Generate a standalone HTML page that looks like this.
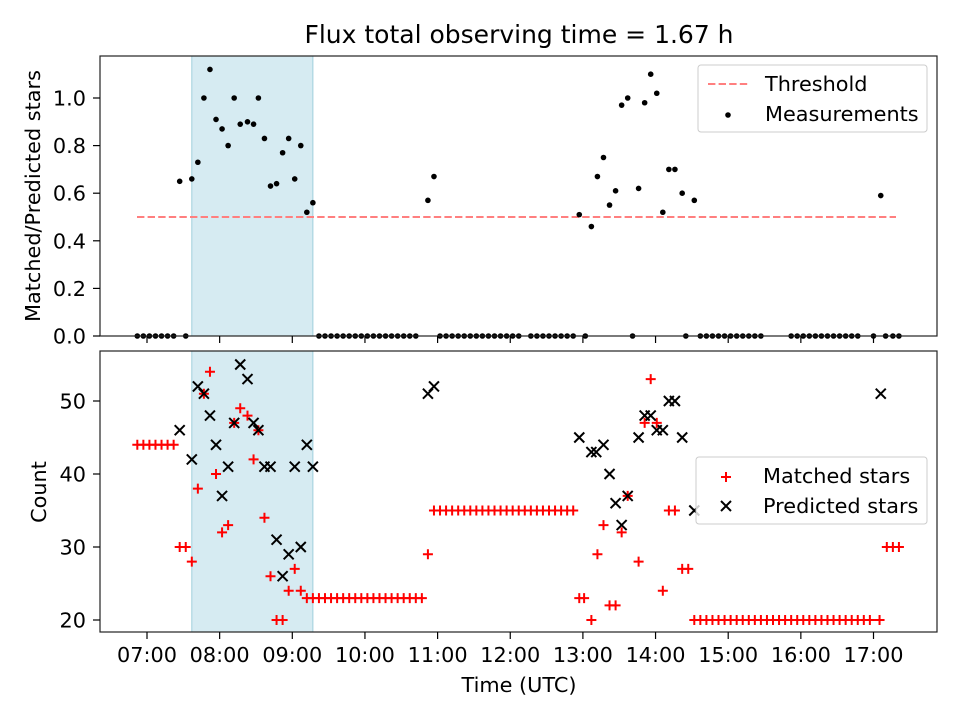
<!DOCTYPE html>
<html><head><meta charset="utf-8"><style>
body{margin:0;background:#fff}
svg{font-family:"DejaVu Sans","Liberation Sans",sans-serif}
</style></head><body>
<svg id="chart" width="960" height="720" viewBox="0 0 960 720" xmlns="http://www.w3.org/2000/svg" style="position:absolute;left:0;top:0"></svg>
<script>
// minutes since 07:00 UTC
const ratioTimes = [27,37,42,47,52,57,62,67,72,77,83,88,92,97,102,107,112,117,122,127,132,137,232,237,357,367,372,377,382,387,392,397,406,411,416,421,426,431,436,442,452,606];
const ratioValues = [0.65,0.66,0.73,1.0,1.12,0.91,0.87,0.80,1.0,0.89,0.90,0.89,1.0,0.83,0.63,0.64,0.77,0.83,0.66,0.80,0.52,0.56,0.57,0.67,0.51,0.46,0.67,0.75,0.55,0.61,0.97,1.0,0.62,0.98,1.1,1.02,0.52,0.70,0.70,0.60,0.57,0.59];
const zeroTimes = [-8,-3,2,7,12,17,22,32,142,147,152,157,162,167,172,177,182,187,192,197,202,207,212,217,222,242,247,252,257,262,267,272,277,282,287,292,297,302,307,317,322,327,332,337,342,347,352,362,401,445,457,462,467,472,477,482,487,492,497,502,507,532,537,542,547,552,557,562,567,572,577,582,587,600,610,616,621];
const matchedTimes = [-8,-3,2,7,12,17,22,27,32,37,42,47,52,57,62,67,72,77,83,88,92,97,102,107,112,117,122,127,132,137,142,147,152,157,162,167,172,177,182,187,192,197,202,207,212,217,222,227,232,237,242,247,252,257,262,267,272,277,282,287,292,297,302,307,312,317,322,327,332,337,342,347,352,357,361,367,372,377,382,387,392,397,406,411,416,421,426,431,436,442,447,452,457,462,467,472,477,482,487,492,497,502,507,512,517,522,527,532,537,542,547,552,557,562,567,572,577,582,587,592,597,605,611,616,621];
const matchedValues = [44,44,44,44,44,44,44,30,30,28,38,51,54,40,32,33,47,49,48,42,46,34,26,20,20,24,27,24,23,23,23,23,23,23,23,23,23,23,23,23,23,23,23,23,23,23,23,23,29,35,35,35,35,35,35,35,35,35,35,35,35,35,35,35,35,35,35,35,35,35,35,35,35,23,23,20,29,33,22,22,32,37,28,47,53,47,24,35,35,27,27,20,20,20,20,20,20,20,20,20,20,20,20,20,20,20,20,20,20,20,20,20,20,20,20,20,20,20,20,20,20,20,30,30,30,30];
const predTimes = [27,37,42,47,52,57,62,67,72,77,83,88,92,97,102,107,112,117,122,127,132,137,232,237,357,367,371,377,382,387,392,397,406,411,416,421,426,431,436,442,452,606];
const predValues = [46,42,52,51,48,44,37,41,47,55,53,47,46,41,41,31,26,29,41,30,44,41,51,52,45,43,43,44,40,36,33,37,45,48,48,46,46,50,50,45,35,51];
const xTickLabels = ["07:00","08:00","09:00","10:00","11:00","12:00","13:00","14:00","15:00","16:00","17:00"];
const topTicks = [0.0,0.2,0.4,0.6,0.8,1.0];
const botTicks = [20,30,40,50];
const threshold = 0.5;
const shadeStart = 37, shadeEnd = 137;

const NS="http://www.w3.org/2000/svg";
const svg=document.getElementById('chart');
function el(tag,attrs,parent){const e=document.createElementNS(NS,tag);for(const k in attrs)e.setAttribute(k,attrs[k]);(parent||svg).appendChild(e);return e;}
const L=100,R=937;
const xs=m=>147+m*72.65/60;
const yTop=v=>336-v*238;
const yBot=c=>620-(c-20)*7.3;
const T1=56,B1=336,T2=351,B2=632;
const FS=20.8;

[[T1,B1],[T2,B2]].forEach(([t,b])=>{
  const s=el('rect',{x:xs(shadeStart),y:t,width:xs(shadeEnd)-xs(shadeStart),height:b-t,fill:'#add8e6','fill-opacity':0.5,stroke:'#9fcfdc','stroke-width':1});
  
  
});

const th=el('line',{x1:137,x2:896,y1:yTop(threshold),y2:yTop(threshold),stroke:'#ff7f7f','stroke-width':2,'stroke-dasharray':'7.4,3.2'});



zeroTimes.forEach(t=>{const c=el('circle',{cx:xs(t),cy:yTop(0),r:2.8,fill:'#000'});
  
  });
ratioTimes.forEach((t,i)=>{const c=el('circle',{cx:xs(t),cy:yTop(ratioValues[i]),r:2.8,fill:'#000'});
  
  });

matchedTimes.forEach((t,i)=>{const x=xs(t),y=yBot(matchedValues[i]);
  const p=el('path',{d:`M${x-5},${y}H${x+5}M${x},${y-5}V${y+5}`,stroke:'#f00','stroke-width':2,fill:'none'});
  
  });
predTimes.forEach((t,i)=>{const x=xs(t),y=yBot(predValues[i]);
  const p=el('path',{d:`M${x-5},${y-5}L${x+5},${y+5}M${x-5},${y+5}L${x+5},${y-5}`,stroke:'#000','stroke-width':2,fill:'none'});
  
  });

[[T1,B1,'top-frame'],[T2,B2,'bottom-frame']].forEach(([t,b,n])=>{
  const f=el('rect',{x:L,y:t,width:R-L,height:b-t,fill:'none',stroke:'#222','stroke-width':1.2});
  
  
});

xTickLabels.forEach((lab,i)=>{const x=xs(i*60);
  el('line',{x1:x,x2:x,y1:B1,y2:B1+7,stroke:'#000','stroke-width':1.2});
  el('line',{x1:x,x2:x,y1:B2,y2:B2+7,stroke:'#000','stroke-width':1.2});
  const tx=el('text',{x:x,y:B2+30,'font-size':FS,'text-anchor':'middle'});tx.textContent=lab;
  
  });
topTicks.forEach(v=>{const y=yTop(v);
  el('line',{x1:L-7,x2:L,y1:y,y2:y,stroke:'#000','stroke-width':1.2});
  const tx=el('text',{x:L-14,y:y+7.5,'font-size':FS,'text-anchor':'end'});tx.textContent=v.toFixed(1);
  
  });
botTicks.forEach(v=>{const y=yBot(v);
  el('line',{x1:L-7,x2:L,y1:y,y2:y,stroke:'#000','stroke-width':1.2});
  const tx=el('text',{x:L-14,y:y+7.5,'font-size':FS,'text-anchor':'end'});tx.textContent=v;
  
  });
</script>
<svg width="960" height="720" style="position:absolute;left:0;top:0" font-family="DejaVu Sans, Liberation Sans, sans-serif">
<text x="519" y="43" font-size="25" text-anchor="middle">Flux total observing time = 1.67 h</text>
<text transform="translate(40,196) rotate(-90)" font-size="20.8" text-anchor="middle">Matched/Predicted stars</text>
<text transform="translate(46,492) rotate(-90)" font-size="20.8" text-anchor="middle">Count</text>
<text x="519" y="692" font-size="20.8" text-anchor="middle">Time (UTC)</text>
<g font-size="20.8">
<rect x="698" y="65" width="229" height="67" rx="3" fill="#fff" fill-opacity="0.8" stroke="#ccc"/>
<line x1="708" x2="748" y1="84" y2="84" stroke="#ff7f7f" stroke-width="2" stroke-dasharray="7.4,3.2"/>
<text x="765" y="91">Threshold</text>
<circle cx="728" cy="115" r="2.8" fill="#000"/>
<text x="765" y="121">Measurements</text>
</g>
<g font-size="20.8">
<rect x="696" y="457" width="231" height="67" rx="3" fill="#fff" fill-opacity="0.8" stroke="#ccc"/>
<path d="M721,477H731M726,472V482" stroke="#f00" stroke-width="2"/>
<text x="763" y="483">Matched stars</text>
<path d="M721,501L731,511M721,511L731,501" stroke="#000" stroke-width="2"/>
<text x="763" y="513">Predicted stars</text>
</g>
</svg>
</body></html>
